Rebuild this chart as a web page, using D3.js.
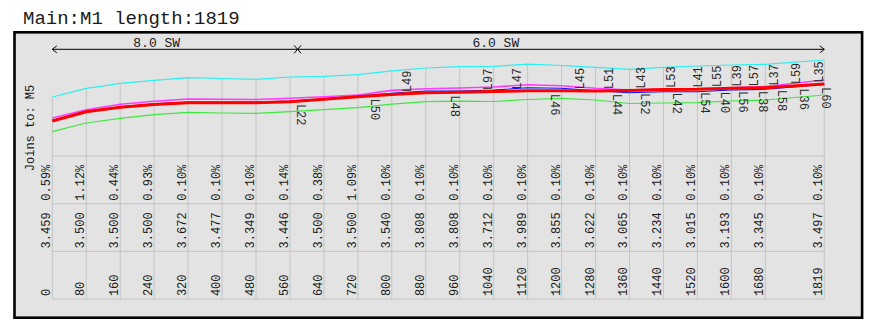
<!DOCTYPE html>
<html>
<head>
<meta charset="utf-8">
<script src="https://cdn.jsdelivr.net/npm/d3@7/dist/d3.min.js"></script>
<style>
  html, body { margin: 0; padding: 0; background: #fff; }
  svg { display: block; }
  text { font-family: "Liberation Mono", "DejaVu Sans Mono", monospace; }
</style>
</head>
<body>
<script>
// Profile of main M1: stations along the run, per-station table rows and profile lines.
const title = "Main:M1 length:1819";
const sideLabel = "Joins to: M5";

const stations = [0, 80, 160, 240, 320, 400, 480, 560, 640, 720, 800, 880, 960,
  1040, 1120, 1200, 1280, 1360, 1440, 1520, 1600, 1680, 1819];

const slopePct = [0.59, 1.12, 0.44, 0.93, 0.10, 0.10, 0.10, 0.14, 0.38, 1.09, 0.10, 0.10,
  0.10, 0.10, 0.10, 0.10, 0.10, 0.10, 0.10, 0.10, 0.10, 0.10, 0.10];

const depthValues = [3.459, 3.500, 3.500, 3.500, 3.672, 3.477, 3.349, 3.446, 3.500, 3.500,
  3.540, 3.808, 3.808, 3.712, 3.989, 3.855, 3.622, 3.065, 3.234, 3.015, 3.193, 3.345, 3.497];

// Profile lines (heights above the table), one value per station
const cyanLine = [59.0, 67.7, 72.7, 75.7, 78.3, 77.5, 76.7, 79.0, 79.7, 81.3, 85.2, 88.0,
  89.3, 89.7, 91.8, 90.5, 88.7, 86.7, 88.7, 90.0, 91.0, 91.7, 96.0];
const magentaLine = [38.0, 46.3, 51.8, 54.8, 57.0, 56.8, 56.5, 57.7, 59.3, 61.0, 65.6, 67.2,
  68.0, 69.0, 71.3, 70.2, 67.7, 66.0, 67.0, 67.2, 68.2, 69.5, 76.0];
const blueLine = [35.5, 44.8, 49.3, 52.2, 54.0, 54.0, 54.0, 55.0, 57.3, 60.0, 62.7, 65.0,
  65.0, 66.0, 68.2, 67.7, 65.3, 63.3, 64.3, 64.3, 66.0, 66.7, 71.5];
const redLine = [35.0, 44.3, 48.7, 51.5, 53.3, 53.3, 53.3, 54.3, 56.8, 59.3, 61.5, 63.2,
  63.7, 64.5, 65.2, 65.2, 65.0, 65.5, 66.5, 66.7, 67.7, 68.3, 72.0];
const greenLine = [24.3, 33.0, 37.7, 41.3, 43.7, 43.0, 42.7, 44.3, 46.3, 48.3, 51.8, 54.3,
  54.8, 54.5, 56.5, 57.7, 56.0, 52.5, 53.0, 53.3, 55.0, 56.0, 61.0];

// Joins along the main, labelled above or below the main line
const joinsAbove = [
  { label: "L49", station: 835 }, { label: "L97", station: 1027 }, { label: "L47", station: 1094 },
  { label: "L45", station: 1243 }, { label: "L51", station: 1312 }, { label: "L43", station: 1387 },
  { label: "L53", station: 1457 }, { label: "L41", station: 1520 }, { label: "L55", station: 1565 },
  { label: "L39", station: 1613 }, { label: "L57", station: 1652 }, { label: "L37", station: 1699 },
  { label: "L59", station: 1752 }, { label: "L35", station: 1807 }
];
const joinsBelow = [
  { label: "L22", station: 586 }, { label: "L50", station: 760 }, { label: "L48", station: 950 },
  { label: "L46", station: 1186 }, { label: "L44", station: 1331 }, { label: "L52", station: 1397 },
  { label: "L42", station: 1473 }, { label: "L54", station: 1538 }, { label: "L40", station: 1585 },
  { label: "L56", station: 1628 }, { label: "L38", station: 1674 }, { label: "L58", station: 1719 },
  { label: "L36", station: 1771 }, { label: "L60", station: 1823 }
];

// Pipe size segments
const segments = [
  { label: "8.0 SW", from: 0, to: 578, labelAt: 246 },
  { label: "6.0 SW", from: 578, to: 1819, labelAt: 1045 }
];

const W = 874, H = 334;
const svg = d3.select("body").append("svg").attr("width", W).attr("height", H);

const x = d3.scaleLinear().domain([0, 1819]).range([52.3, 824.3]);
const y = d3.scaleLinear().domain([0, 100]).range([156, 56]);

const tableTop = 156, rowH = 47.7, nRows = 3;
const tableBottom = tableTop + rowH * nRows;

// Title
svg.append("text").attr("x", 23).attr("y", 23.5)
  .attr("font-size", 19).attr("fill", "#1a1a1a").text(title);

// Frame
svg.append("rect").attr("x", 14.5).attr("y", 32.3).attr("width", 847.6).attr("height", 285.4)
  .attr("fill", "#e3e3e3").attr("stroke", "#000").attr("stroke-width", 2.6);

const interp = (arr, s) => {
  const i = Math.max(1, Math.min(stations.length - 1, d3.bisectLeft(stations, s)));
  const s0 = stations[i - 1], s1 = stations[i];
  const t = Math.max(0, Math.min(1, (s - s0) / (s1 - s0)));
  return arr[i - 1] + (arr[i] - arr[i - 1]) * t;
};

// Vertical grid at each station, from the top profile line down through the table
const grid = svg.append("g").attr("stroke", "#c4c4c4").attr("stroke-width", 1);
stations.forEach((s, i) => {
  grid.append("line")
    .attr("x1", x(s)).attr("x2", x(s))
    .attr("y1", y(cyanLine[i])).attr("y2", tableBottom);
});
for (let r = 0; r <= nRows; r++) {
  grid.append("line")
    .attr("x1", x(0)).attr("x2", x(1819))
    .attr("y1", tableTop + r * rowH).attr("y2", tableTop + r * rowH);
}

// Profile lines
const line = d3.line().x((d, i) => x(stations[i])).y(d => y(d));
const series = [
  { data: cyanLine, color: "#2af0f0", width: 1.2 },
  { data: greenLine, color: "#3ee83e", width: 1.2 },
  { data: magentaLine, color: "#ff3cff", width: 1.6 },
  { data: blueLine, color: "#1010ee", width: 1.1 },
  { data: redLine, color: "#ff0000", width: 3 }
];
series.forEach(sr => {
  svg.append("path").datum(sr.data).attr("d", line)
    .attr("fill", "none").attr("stroke", sr.color).attr("stroke-width", sr.width)
    .attr("stroke-linejoin", "round");
});

// Join labels
const labels = svg.append("g").attr("font-size", 12).attr("fill", "#2a2a2a");
joinsAbove.forEach(j => {
  const px = x(j.station), py = y(interp(redLine, j.station)) - 1.5;
  labels.append("text").attr("transform", `translate(${px},${py}) rotate(-90)`)
    .attr("dy", "0.35em").text(j.label);
});
joinsBelow.forEach(j => {
  const px = x(Math.min(j.station, 1819)) + (j.station > 1819 ? x(j.station) - x(1819) : 0);
  const py = y(interp(redLine, Math.min(j.station, 1819))) + 3;
  labels.append("text").attr("transform", `translate(${px},${py}) rotate(90)`)
    .attr("dy", "0.35em").text(j.label);
});

// Size dimension line with arrows and segment break
const dimY = 49.3;
const dim = svg.append("g").attr("stroke", "#000").attr("stroke-width", 1).attr("fill", "none");
dim.append("line").attr("x1", x(0)).attr("x2", x(1819)).attr("y1", dimY).attr("y2", dimY);
dim.append("path").attr("d", `M${x(0) + 4.5},${dimY - 3.5} L${x(0)},${dimY} L${x(0) + 4.5},${dimY + 3.5}`);
dim.append("path").attr("d", `M${x(1819) - 4.5},${dimY - 3.5} L${x(1819)},${dimY} L${x(1819) - 4.5},${dimY + 3.5}`);
segments.slice(1).forEach(sg => {
  const bx = x(sg.from);
  dim.append("path").attr("d",
    `M${bx - 3.5},${dimY - 4} L${bx + 3.5},${dimY + 4} M${bx + 3.5},${dimY - 4} L${bx - 3.5},${dimY + 4}`);
});
segments.forEach(sg => {
  svg.append("text").attr("x", x(sg.labelAt)).attr("y", dimY - 2.5)
    .attr("text-anchor", "middle").attr("font-size", 13).attr("fill", "#1a1a1a").text(sg.label);
});

// Side label
svg.append("text").attr("transform", `translate(30,128) rotate(-90)`)
  .attr("text-anchor", "middle").attr("dy", "0.35em")
  .attr("font-size", 12).attr("fill", "#1a1a1a").text(sideLabel);

// Table rows: slope %, depth, station
const rows = [
  stations.map((s, i) => slopePct[i].toFixed(2) + "%"),
  stations.map((s, i) => depthValues[i].toFixed(3)),
  stations.map(s => String(s))
];
const table = svg.append("g").attr("font-size", 12).attr("fill", "#1a1a1a");
rows.forEach((row, r) => {
  const by = tableTop + (r + 1) * rowH - 3;
  row.forEach((t, i) => {
    table.append("text").attr("transform", `translate(${x(stations[i]) - 2},${by}) rotate(-90)`)
      .text(t);
  });
});
</script>
</body>
</html>
